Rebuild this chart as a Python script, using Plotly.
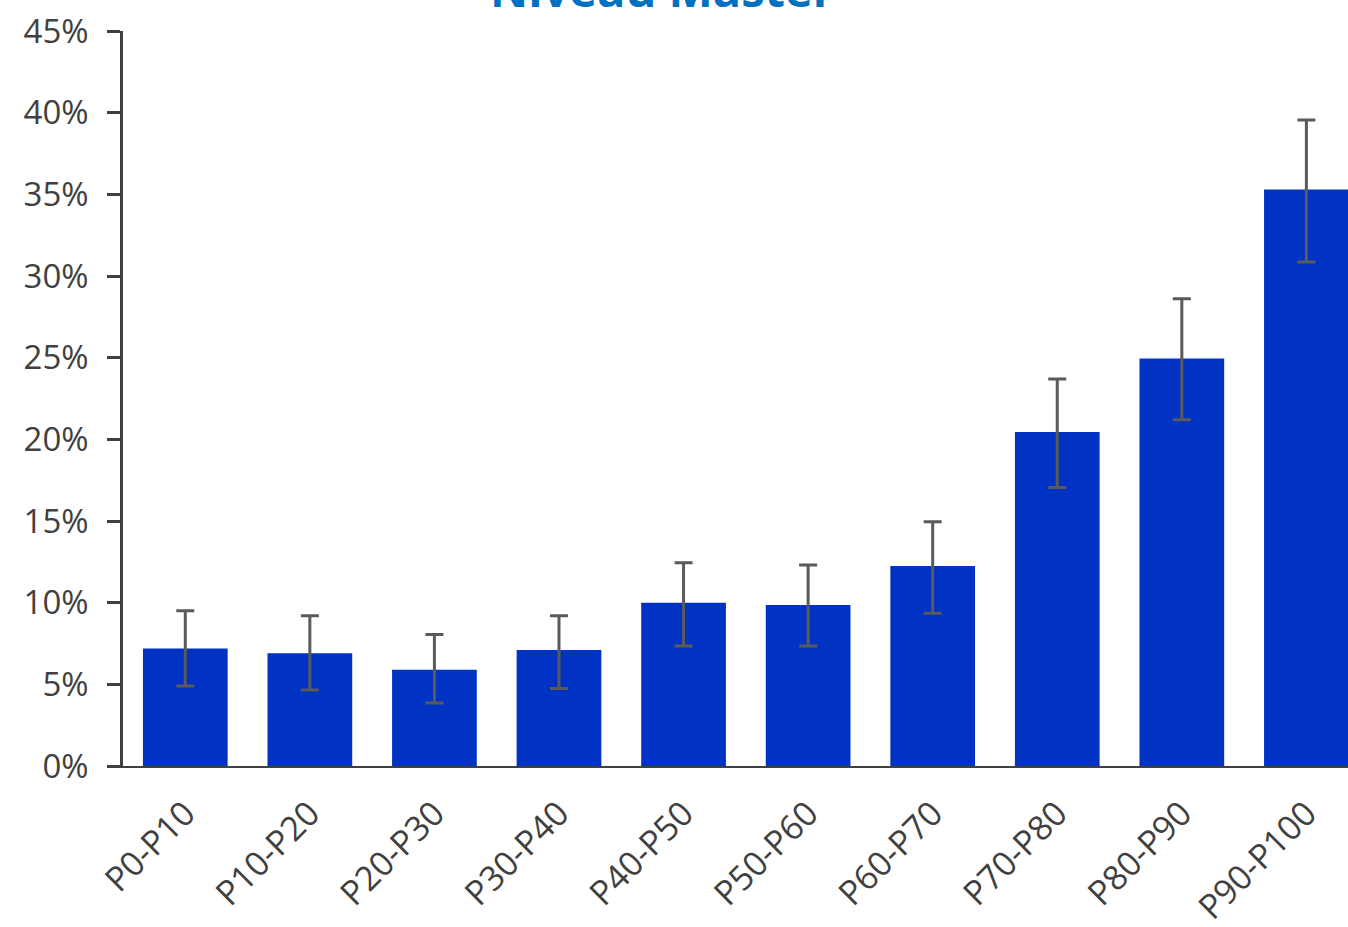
import plotly.graph_objects as go

categories = ["P0-P10", "P10-P20", "P20-P30", "P30-P40", "P40-P50",
              "P50-P60", "P60-P70", "P70-P80", "P80-P90", "P90-P100"]
values = [7.2, 6.9, 5.9, 7.1, 10.0, 9.85, 12.25, 20.45, 24.95, 35.3]
err_upper = [9.5, 9.2, 8.05, 9.2, 12.45, 12.3, 14.95, 23.7, 28.6, 39.55]
err_lower = [4.9, 4.65, 3.85, 4.75, 7.35, 7.35, 9.35, 17.05, 21.2, 30.85]
y_tickvals = [0, 5, 10, 15, 20, 25, 30, 35, 40, 45]
y_ticktext = ["0%", "5%", "10%", "15%", "20%", "25%", "30%", "35%", "40%", "45%"]
title_text = "Niveau Master"

plus = [u - v for u, v in zip(err_upper, values)]
minus = [v - l for v, l in zip(values, err_lower)]

fig = go.Figure()
fig.add_trace(go.Bar(
    x=list(range(len(categories))), y=values,
    marker=dict(color="#0033C4", line=dict(width=0)),
    error_y=dict(type="data", symmetric=False, array=plus, arrayminus=minus,
                 color="#5a5a5a", thickness=3, width=9),
))

font_family = "Open Sans, Liberation Sans, DejaVu Sans, sans-serif"
fig.update_layout(
    width=1348, height=927,
    margin=dict(l=123, r=0, t=31, b=161),
    plot_bgcolor="white", paper_bgcolor="white",
    bargap=0.32, showlegend=False,
    font=dict(family=font_family, size=34, color="#404040"),
    xaxis=dict(
        tickmode="array", tickvals=list(range(len(categories))), ticktext=categories,
        range=[-0.5, 9.334], tickangle=-45, showline=True, linecolor="#404040",
        linewidth=2, ticks="", showgrid=False, zeroline=False,
        ticklabelstandoff=12, ticklabeloverflow="allow",
        tickfont=dict(size=34, color="#404040"),
    ),
    yaxis=dict(
        range=[0, 45], tickmode="array", tickvals=y_tickvals, ticktext=y_ticktext,
        showline=True, linecolor="#404040", linewidth=2.5, ticks="outside",
        ticklen=13, tickwidth=2.5, tickcolor="#404040", showgrid=False,
        ticklabelstandoff=12, ticklabeloverflow="allow",
        zeroline=False, tickfont=dict(size=33, color="#404040"),
    ),
    annotations=[dict(
        text="<b>" + title_text + "</b>", xref="paper", yref="paper",
        x=0.44, y=1.0 + 8 / 735, xanchor="center", yanchor="bottom",
        showarrow=False, font=dict(size=47, color="#0070C0", family=font_family),
    )],
)

fig.write_html(
    "out.html",
    config={"displayModeBar": False},
    post_script="document.body.style.margin='0';document.documentElement.style.overflow='hidden';",
)
